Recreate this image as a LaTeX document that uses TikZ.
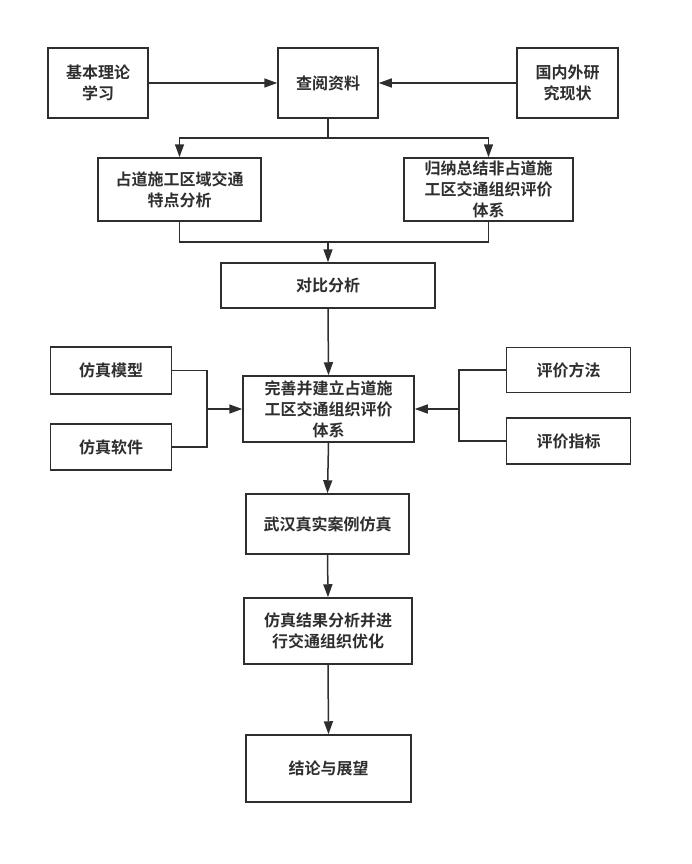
\documentclass[tikz,border=0pt]{standalone}
\usepackage{fontspec}
\newfontfamily\cjk{Noto Sans CJK SC Bold}
\usetikzlibrary{arrows.meta}
\definecolor{ink}{HTML}{2E2E2E}
\begin{document}
\begin{tikzpicture}[x=1pt,y=-1pt,
  box/.style={draw=ink, line width=1.5pt, text=ink, align=center, inner sep=0pt,
    font=\cjk\fontsize{16pt}{21pt}\selectfont},
  conn/.style={draw=ink, line width=1.5pt},
  arr/.style={conn, -{Triangle[length=13pt,width=9pt]}}]
\useasboundingbox (0,0) rectangle (691,864);
\node[box, minimum width=100pt, minimum height=70pt] (a) at (98,83) {基本理论\\学习};
\node[box, minimum width=100pt, minimum height=70pt] (b) at (328,83) {查阅资料};
\node[box, minimum width=101pt, minimum height=70pt] (c) at (567.5,83) {国内外研\\究现状};
\node[box, minimum width=163pt, minimum height=63pt] (d) at (179.5,189.5) {占道施工区域交通\\特点分析};
\node[box, minimum width=169pt, minimum height=63pt] (e) at (488.5,189.5) {归纳总结非占道施\\工区交通组织评价\\体系};
\node[box, minimum width=214pt, minimum height=45pt] (f) at (328,285.5) {对比分析};
\node[box, minimum width=121pt, minimum height=47pt] (g) at (111,370.5) {仿真模型};
\node[box, minimum width=121pt, minimum height=46pt] (h) at (111,447) {仿真软件};
\node[box, minimum width=171pt, minimum height=66pt] (i) at (328.5,409) {完善并建立占道施\\工区交通组织评价\\体系};
\node[box, minimum width=124pt, minimum height=45pt] (j) at (568.5,370) {评价方法};
\node[box, minimum width=124pt, minimum height=46pt] (k) at (568.5,441) {评价指标};
\node[box, minimum width=163pt, minimum height=60pt] (l) at (327.5,524) {武汉真实案例仿真};
\node[box, minimum width=168pt, minimum height=66pt] (m) at (328,631) {仿真结果分析并进\\行交通组织优化};
\node[box, minimum width=165pt, minimum height=67pt] (n) at (328.5,768.5) {结论与展望};
\coordinate (br) at (328,138);
\coordinate (mg) at (328,242);
\coordinate (jl) at (207,409);
\coordinate (jr) at (459,409);
\draw[arr] (a.east) -- (b.west);
\draw[arr] (c.west) -- (b.east);
\draw[conn] (b.south) -- (br);
\draw[arr] (br) -| (d.north);
\draw[arr] (br) -| (e.north);
\draw[conn] (d.south) |- (mg);
\draw[conn] (e.south) |- (mg);
\draw[arr] (mg) -- (f.north);
\draw[arr] (f.south) -- (i.north);
\draw[conn] (g.east) -| (jl);
\draw[conn] (h.east) -| (jl);
\draw[arr] (jl) -- (i.west);
\draw[conn] (j.west) -| (jr);
\draw[conn] (k.west) -| (jr);
\draw[arr] (jr) -- (i.east);
\draw[arr] (i.south) -- (l.north);
\draw[arr] (l.south) -- (m.north);
\draw[arr] (m.south) -- (n.north);
\end{tikzpicture}
\end{document}
